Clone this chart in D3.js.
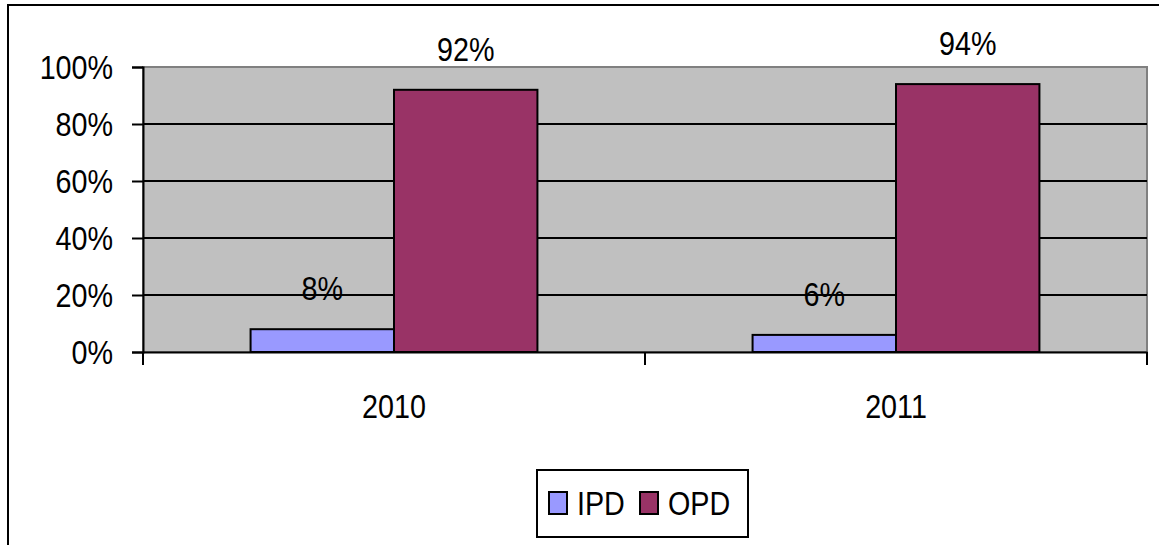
<!DOCTYPE html>
<html>
<head>
<meta charset="utf-8">
<script src="https://cdn.jsdelivr.net/npm/d3@7"></script>
<style>
  body { margin: 0; background: #fff; }
  text { font-family: "Liberation Sans", Arial, sans-serif; fill: #000; }
</style>
</head>
<body>
<div id="chart"></div>
<script>
const years = ["2010", "2011"];
const seriesNames = ["IPD", "OPD"];
const ipd = [0.08, 0.06];
const opd = [0.92, 0.94];
const yTicks = [0, 0.2, 0.4, 0.6, 0.8, 1];
const colors = ["#9999FF", "#993366"];

var width = 1159, height = 545;
var margin = { top: 67, right: 12, bottom: 193, left: 143 };
var fontSize = 33, sx = 0.87; // the original font is a bit condensed

// condensed text: scale x about origin, so divide x position by sx
function squeeze(sel, x) {
  sel.style("font-size", fontSize + "px")
    .attr("transform", "scale(" + sx + ",1)")
    .attr("x", function(d, i) { return (typeof x === "function" ? x(d, i) : x) / sx; });
}

var svg = d3.select("#chart").append("svg")
  .attr("width", width)
  .attr("height", height);

// outer frame
svg.append("rect")
  .attr("x", 8).attr("y", 5)
  .attr("width", width + 10).attr("height", height + 10)
  .attr("fill", "none")
  .attr("stroke", "#000")
  .attr("stroke-width", 2);

var x0 = d3.scaleBand()
  .domain(years)
  .range([margin.left, width - margin.right]);

var x1 = d3.scaleBand()
  .domain(seriesNames)
  .range([0, x0.bandwidth()])
  .paddingOuter(0.75)
  .paddingInner(0);

var y = d3.scaleLinear()
  .domain([0, 1])
  .range([height - margin.bottom, margin.top]);

// plot background
svg.append("rect")
  .attr("x", margin.left)
  .attr("y", y(1))
  .attr("width", width - margin.right - margin.left)
  .attr("height", y(0) - y(1))
  .attr("fill", "#C0C0C0")
  .attr("stroke", "#808080")
  .attr("stroke-width", 2);

// gridlines
svg.append("g")
  .selectAll("line")
  .data(yTicks.filter(d => d > 0 && d < 1))
  .enter().append("line")
  .attr("x1", margin.left)
  .attr("x2", width - margin.right)
  .attr("y1", d => y(d))
  .attr("y2", d => y(d))
  .attr("stroke", "#000")
  .attr("stroke-width", 2);

// y axis
var yAxis = svg.append("g")
  .attr("transform", "translate(" + margin.left + ",0)")
  .call(d3.axisLeft(y).tickValues(yTicks).tickFormat(d3.format(".0%")).tickSize(11));
yAxis.select(".domain").attr("stroke-width", 2);
yAxis.selectAll(".tick line").attr("stroke-width", 2);
yAxis.selectAll("text").call(squeeze, -30).attr("dy", "0.36em");

// bars
var data = years.map((yr, i) => ({ year: yr, values: [ipd[i], opd[i]] }));
var groups = svg.append("g")
  .selectAll("g")
  .data(data)
  .enter().append("g")
  .attr("transform", d => "translate(" + x0(d.year) + ",0)");

groups.selectAll("rect")
  .data(d => d.values.map((v, j) => ({ key: seriesNames[j], value: v, color: colors[j] })))
  .enter().append("rect")
  .attr("x", d => x1(d.key))
  .attr("y", d => y(d.value))
  .attr("width", x1.bandwidth())
  .attr("height", d => y(0) - y(d.value))
  .attr("fill", d => d.color)
  .attr("stroke", "#000")
  .attr("stroke-width", 2);

groups.selectAll("text")
  .data(d => d.values.map((v, j) => ({ key: seriesNames[j], value: v })))
  .enter().append("text")
  .attr("y", d => y(d.value) - 29)
  .attr("text-anchor", "middle")
  .text(d => d3.format(".0%")(d.value))
  .call(squeeze, d => x1(d.key) + x1.bandwidth() / 2);

// x axis
var xAxis = svg.append("g")
  .attr("transform", "translate(0," + y(0) + ")")
  .call(d3.axisBottom(x0).tickSize(0));
xAxis.select(".domain").attr("stroke-width", 2);
xAxis.selectAll("text")
  .attr("y", 66).attr("dy", null)
  .call(squeeze, 0);

// category separator ticks
svg.append("g")
  .selectAll("line")
  .data(x0.domain().map(d => x0(d)).concat([x0.range()[1]]))
  .enter().append("line")
  .attr("x1", d => d).attr("x2", d => d)
  .attr("y1", y(0)).attr("y2", y(0) + 13)
  .attr("stroke", "#000")
  .attr("stroke-width", 2);

// legend
var legend = svg.append("g").attr("transform", "translate(537,470)");
legend.append("rect")
  .attr("width", 211).attr("height", 67)
  .attr("fill", "#fff")
  .attr("stroke", "#000")
  .attr("stroke-width", 2);
var legendX = [12, 103];
var items = legend.selectAll("g.item")
  .data(seriesNames)
  .enter().append("g")
  .attr("class", "item")
  .attr("transform", (d, i) => "translate(" + legendX[i] + ",0)");
items.append("rect")
  .attr("x", 0).attr("y", 22)
  .attr("width", 18).attr("height", 22)
  .attr("fill", (d, i) => colors[i])
  .attr("stroke", "#000")
  .attr("stroke-width", 2);
items.append("text")
  .attr("y", 45)
  .text(d => d)
  .call(squeeze, 28);
</script>
</body>
</html>
